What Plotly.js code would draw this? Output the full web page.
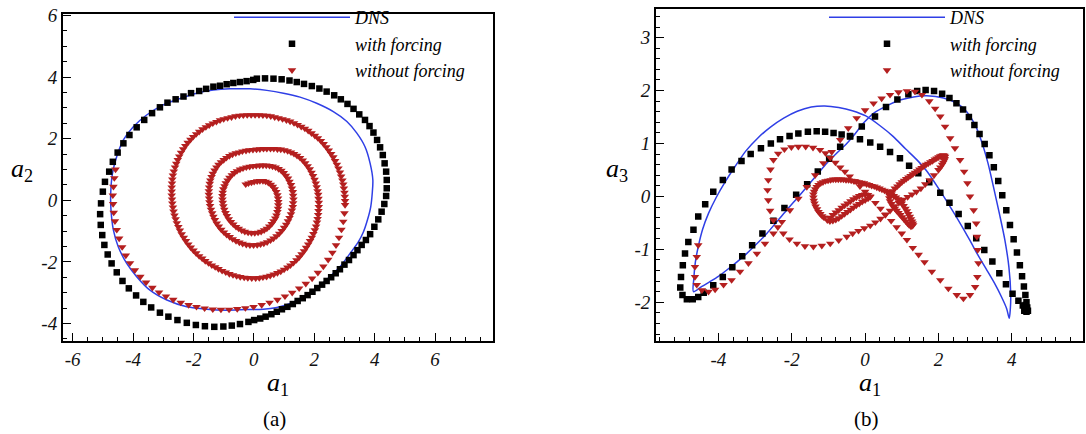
<!DOCTYPE html>
<html><head><meta charset="utf-8">
<script src="https://cdn.plot.ly/plotly-3.0.1.min.js"></script>
<style>html,body{margin:0;padding:0;background:#fff;}#chart{width:1086px;height:434px;}</style>
</head><body><div id="chart"></div>
<script>
// ---------- series names ----------
const seriesNames = ['DNS', 'with forcing', 'without forcing'];

// ---------- panel (a): a1 vs a2 ----------
const dnsA = [[3.92,0.23],[3.94,0.66],[3.85,1.20],[3.68,1.74],[3.41,2.18],[3.08,2.56],[2.63,2.88],[2.08,3.15],[1.53,3.35],[0.98,3.48],[0.43,3.57],[-0.13,3.62],[-0.79,3.62],[-1.34,3.58],[-1.89,3.48],[-2.44,3.31],[-3.00,3.10],[-3.55,2.77],[-3.99,2.39],[-4.32,1.96],[-4.54,1.42],[-4.68,0.88],[-4.74,0.23],[-4.73,-0.32],[-4.65,-0.97],[-4.49,-1.51],[-4.21,-2.05],[-3.88,-2.48],[-3.44,-2.92],[-2.88,-3.24],[-2.22,-3.46],[-1.56,-3.54],[-0.90,-3.57],[-0.24,-3.55],[0.31,-3.54],[0.76,-3.48],[1.20,-3.35],[1.64,-3.13],[2.08,-2.86],[2.52,-2.48],[2.85,-2.16],[3.19,-1.72],[3.46,-1.35],[3.63,-1.02],[3.76,-0.64],[3.87,-0.21],[3.92,0.23]];

const withA = [[-0.02,3.91],[0.10,3.95],[0.37,3.96],[0.65,3.95],[0.92,3.93],[1.18,3.89],[1.42,3.84],[1.66,3.78],[1.92,3.71],[2.17,3.63],[2.41,3.53],[2.66,3.41],[2.88,3.28],[3.10,3.13],[3.30,2.97],[3.49,2.79],[3.68,2.61],[3.83,2.41],[3.96,2.20],[4.08,1.96],[4.18,1.72],[4.27,1.47],[4.33,1.20],[4.38,0.93],[4.40,0.66],[4.40,0.39],[4.38,0.14],[4.32,-0.12],[4.23,-0.37],[4.12,-0.62],[3.99,-0.86],[3.85,-1.10],[3.71,-1.29],[3.57,-1.45],[3.43,-1.62],[3.30,-1.78],[3.15,-1.94],[3.00,-2.09],[2.85,-2.24],[2.71,-2.37],[2.56,-2.50],[2.41,-2.62],[2.26,-2.74],[2.10,-2.85],[1.94,-2.97],[1.78,-3.08],[1.62,-3.18],[1.45,-3.27],[1.29,-3.37],[1.11,-3.46],[0.93,-3.54],[0.76,-3.62],[0.58,-3.70],[0.39,-3.78],[0.21,-3.84],[0.01,-3.89],[-0.18,-3.95],[-0.46,-4.02],[-0.73,-4.07],[-1.01,-4.10],[-1.31,-4.11],[-1.62,-4.09],[-1.92,-4.05],[-2.22,-3.98],[-2.53,-3.89],[-2.83,-3.78],[-3.11,-3.65],[-3.40,-3.48],[-3.66,-3.30],[-3.90,-3.09],[-4.14,-2.86],[-4.35,-2.62],[-4.54,-2.34],[-4.71,-2.05],[-4.84,-1.76],[-4.95,-1.45],[-5.02,-1.13],[-5.07,-0.80],[-5.09,-0.45],[-5.06,-0.10],[-5.00,0.28],[-4.93,0.60],[-4.79,0.93],[-4.67,1.25],[-4.51,1.55],[-4.32,1.85],[-4.12,2.12],[-3.88,2.37],[-3.63,2.61],[-3.37,2.83],[-3.11,3.02],[-2.86,3.17],[-2.59,3.28],[-2.33,3.37],[-2.08,3.48],[-1.81,3.55],[-1.58,3.62],[-1.34,3.69],[-1.12,3.72],[-0.90,3.77],[-0.68,3.81],[-0.46,3.84],[-0.24,3.87]];

const withoutA = [[-4.58,1.00],[-4.62,0.72],[-4.65,0.44],[-4.67,0.16],[-4.66,-0.12],[-4.64,-0.40],[-4.60,-0.68],[-4.54,-0.96],[-4.46,-1.24],[-4.36,-1.52],[-4.24,-1.79],[-4.10,-2.04],[-3.94,-2.27],[-3.76,-2.48],[-3.57,-2.67],[-3.36,-2.84],[-3.14,-2.99],[-2.91,-3.12],[-2.67,-3.23],[-2.42,-3.32],[-2.16,-3.40],[-1.90,-3.46],[-1.63,-3.51],[-1.36,-3.54],[-1.09,-3.55],[-0.82,-3.55],[-0.55,-3.53],[-0.28,-3.50],[-0.01,-3.46],[0.26,-3.40],[0.52,-3.32],[0.78,-3.23],[1.03,-3.12],[1.27,-3.00],[1.50,-2.86],[1.72,-2.71],[1.93,-2.54],[2.12,-2.35],[2.30,-2.15],[2.46,-1.93],[2.60,-1.70],[2.72,-1.46],[2.82,-1.21],[2.90,-0.95],[2.96,-0.69],[3.00,-0.42],
[3.02,-0.15],[3.02,-0.02],[3.01,0.12],[3.00,0.25],[2.98,0.39],[2.96,0.52],[2.93,0.65],[2.89,0.78],[2.85,0.91],[2.80,1.04],[2.75,1.16],[2.69,1.28],[2.63,1.40],[2.56,1.51],[2.48,1.62],[2.40,1.73],[2.31,1.83],[2.22,1.93],[2.12,2.02],[2.02,2.10],[1.91,2.18],[1.80,2.26],[1.69,2.33],[1.57,2.39],[1.45,2.45],[1.33,2.51],[1.20,2.56],[1.08,2.60],[0.95,2.64],[0.82,2.67],[0.69,2.70],[0.56,2.73],[0.43,2.75],[0.30,2.76],[0.17,2.77],[0.04,2.77],[-0.09,2.77],[-0.22,2.77],[-0.35,2.76],[-0.48,2.75],[-0.61,2.73],[-0.74,2.70],[-0.87,2.67],[-1.00,2.64],[-1.12,2.60],[-1.24,2.55],[-1.36,2.50],[-1.48,2.44],[-1.59,2.38],[-1.70,2.31],[-1.81,2.23],[-1.91,2.15],[-2.01,2.06],[-2.10,1.97],[-2.19,1.87],[-2.27,1.77],[-2.34,1.66],[-2.41,1.55],[-2.47,1.43],[-2.52,1.31],[-2.57,1.19],[-2.61,1.07],[-2.65,0.94],[-2.68,0.81],[-2.70,0.68],[-2.71,0.55],[-2.72,0.42],[-2.72,0.29],[-2.72,0.16],[-2.71,0.03],[-2.70,-0.10],[-2.68,-0.23],[-2.66,-0.36],[-2.63,-0.49],[-2.59,-0.61],[-2.55,-0.74],[-2.50,-0.86],[-2.45,-0.98],[-2.39,-1.10],[-2.32,-1.21],[-2.25,-1.32],[-2.17,-1.43],[-2.09,-1.53],[-2.00,-1.63],[-1.91,-1.72],[-1.81,-1.81],[-1.71,-1.89],[-1.61,-1.97],[-1.50,-2.04],[-1.39,-2.11],[-1.28,-2.17],[-1.17,-2.23],[-1.05,-2.29],[-0.93,-2.34],[-0.81,-2.39],[-0.69,-2.43],[-0.57,-2.46],[-0.45,-2.49],[-0.32,-2.51],[-0.20,-2.52],[-0.07,-2.53],[0.06,-2.53],[0.18,-2.52],[0.30,-2.50],[0.42,-2.48],[0.54,-2.45],[0.66,-2.41],[0.78,-2.36],[0.89,-2.31],[1.00,-2.25],[1.11,-2.18],[1.21,-2.11],[1.31,-2.03],[1.41,-1.94],[1.50,-1.85],[1.58,-1.75],[1.66,-1.65],[1.73,-1.54],[1.80,-1.43],[1.86,-1.32],[1.92,-1.21],[1.97,-1.09],[2.02,-0.97],[2.06,-0.85],[2.09,-0.72],[2.11,-0.60],[2.13,-0.47],[2.14,-0.34],[2.15,-0.21],[2.15,-0.08],[2.14,0.05],[2.13,0.18],[2.11,0.30],[2.08,0.43],[2.05,0.55],[2.01,0.67],
[1.96,0.79],[1.91,0.90],[1.85,1.01],[1.78,1.11],[1.70,1.21],[1.62,1.30],[1.53,1.38],[1.43,1.45],[1.33,1.51],[1.23,1.56],[1.12,1.60],[1.01,1.63],[0.89,1.65],[0.78,1.66],[0.66,1.67],[0.55,1.67],[0.43,1.67],[0.32,1.67],[0.20,1.66],[0.09,1.65],[-0.03,1.64],[-0.15,1.63],[-0.26,1.61],[-0.38,1.59],[-0.49,1.56],[-0.60,1.53],[-0.71,1.49],[-0.81,1.44],[-0.91,1.38],[-1.00,1.31],[-1.09,1.24],[-1.17,1.16],[-1.24,1.07],[-1.30,0.97],[-1.36,0.87],[-1.40,0.76],[-1.44,0.65],[-1.46,0.54],[-1.48,0.42],[-1.49,0.30],[-1.49,0.18],[-1.48,0.06],[-1.47,-0.06],[-1.45,-0.18],[-1.42,-0.30],[-1.38,-0.42],[-1.34,-0.53],[-1.29,-0.64],[-1.23,-0.75],[-1.16,-0.85],[-1.08,-0.95],[-0.99,-1.04],[-0.90,-1.12],[-0.80,-1.19],[-0.70,-1.26],[-0.59,-1.32],[-0.48,-1.37],[-0.37,-1.41],[-0.25,-1.44],[-0.13,-1.46],[-0.01,-1.46],[0.11,-1.45],[0.22,-1.43],[0.33,-1.40],[0.44,-1.36],[0.55,-1.30],[0.65,-1.24],[0.75,-1.16],[0.84,-1.08],[0.92,-0.99],[1.00,-0.89],[1.07,-0.79],[1.13,-0.68],[1.18,-0.57],[1.23,-0.45],[1.26,-0.33],[1.29,-0.21],[1.30,-0.09],[1.31,0.03],[1.30,0.15],[1.29,0.27],[1.26,0.39],[1.23,0.50],[1.18,0.61],[1.13,0.71],[1.06,0.80],[0.99,0.89],[0.91,0.96],[0.82,1.02],[0.72,1.07],[0.62,1.10],[0.52,1.12],[0.41,1.13],[0.30,1.13],[0.19,1.13],[0.08,1.12],[-0.03,1.11],[-0.14,1.09],[-0.25,1.07],[-0.36,1.04],[-0.46,1.00],[-0.56,0.95],[-0.65,0.89],[-0.73,0.82],[-0.81,0.74],[-0.87,0.65],[-0.93,0.56],[-0.97,0.46],[-1.01,0.36],[-1.03,0.25],[-1.04,0.14],[-1.04,0.03],[-1.03,-0.08],[-1.01,-0.19],[-0.98,-0.30],[-0.94,-0.41],[-0.89,-0.51],[-0.83,-0.61],[-0.76,-0.70],[-0.68,-0.78],[-0.59,-0.86],[-0.50,-0.92],[-0.40,-0.98],[-0.30,-1.02],[-0.19,-1.05],[-0.08,-1.06],[0.03,-1.06],[0.14,-1.05],[0.24,-1.02],[0.34,-0.97],[0.43,-0.92],[0.51,-0.85],[0.59,-0.77],[0.65,-0.68],[0.71,-0.59],[0.75,-0.49],[0.78,-0.38],[0.80,-0.27],[0.81,-0.16],[0.81,-0.05],[0.80,0.06],[0.78,0.17],[0.74,0.27],[0.69,0.36],[0.63,0.44],[0.56,0.51],[0.48,0.57],[0.39,0.61],[0.30,0.63],[0.20,0.63],[0.11,0.62],[0.01,0.60],[-0.08,0.58],[-0.18,0.55],[-0.27,0.52]];

// ---------- panel (b): a1 vs a3 ----------
const dnsB = [[-4.68,-1.80],[-4.67,-1.55],[-4.63,-1.25],[-4.55,-0.95],[-4.43,-0.62],[-4.27,-0.32],[-4.06,-0.02],[-3.82,0.27],[-3.55,0.56],[-3.25,0.86],[-2.93,1.10],[-2.58,1.31],[-2.22,1.48],[-1.85,1.61],[-1.47,1.69],[-1.10,1.71],[-0.72,1.68],[-0.35,1.62],[0.02,1.52],[0.40,1.34],[0.77,1.13],[1.10,0.90],[1.40,0.70],[1.68,0.48],[2.05,0.10],[2.35,-0.23],[2.62,-0.54],[2.85,-0.82],[3.07,-1.10],[3.30,-1.37],[3.52,-1.63],[3.72,-1.90],[3.86,-2.12],[3.93,-2.30],[3.96,-2.12],[3.97,-1.83],[3.92,-1.33],[3.81,-0.82],[3.66,-0.32],[3.50,0.18],[3.35,0.63],[3.18,1.03],[3.00,1.35],[2.77,1.60],[2.50,1.76],[2.14,1.86],[1.68,1.90],[1.32,1.88],[0.95,1.82],[0.59,1.71],[0.23,1.57],[-0.05,1.38],[-0.30,1.16],[-0.50,1.00],[-0.77,0.82],[-1.04,0.63],[-1.31,0.41],[-1.59,0.18],[-1.86,-0.04],[-2.14,-0.26],[-2.41,-0.48],[-2.68,-0.70],[-2.96,-0.90],[-3.23,-1.08],[-3.50,-1.24],[-3.77,-1.39],[-4.00,-1.51],[-4.23,-1.61],[-4.45,-1.70],[-4.68,-1.80]];

const withB = [[-4.86,-1.94],[-4.98,-1.86],[-5.04,-1.72],[-5.02,-1.52],[-4.97,-1.30],[-4.91,-1.08],[-4.82,-0.86],[-4.68,-0.63],[-4.55,-0.38],[-4.36,-0.15],[-4.14,0.09],[-3.88,0.31],[-3.64,0.51],[-3.37,0.67],[-3.12,0.80],[-2.84,0.91],[-2.57,1.00],[-2.32,1.08],[-2.06,1.14],[-1.82,1.19],[-1.56,1.22],[-1.32,1.23],[-1.09,1.22],[-0.86,1.20],[-0.64,1.17],[-0.41,1.13],[-0.14,1.08],[0.14,1.02],[0.41,0.94],[0.68,0.84],[0.95,0.72],[1.20,0.58],[1.45,0.44],[1.75,0.27],[2.05,0.07],[2.30,-0.12],[2.55,-0.33],[2.80,-0.56],[3.03,-0.79],[3.25,-1.01],[3.47,-1.23],[3.66,-1.45],[3.84,-1.66],[4.02,-1.84],[4.18,-1.97],[4.30,-2.06],[4.36,-2.12],[4.34,-2.16],[4.40,-2.18],[4.44,-2.16],[4.42,-2.10],[4.38,-2.05],[4.40,-2.00],[4.37,-1.86],[4.33,-1.70],[4.28,-1.51],[4.22,-1.30],[4.14,-1.06],[4.05,-0.81],[3.95,-0.54],[3.85,-0.26],[3.74,0.02],[3.63,0.29],[3.51,0.55],[3.39,0.78],[3.26,0.99],[3.12,1.18],[2.98,1.35],[2.83,1.50],[2.67,1.64],[2.49,1.76],[2.30,1.86],[2.10,1.94],[1.88,1.99],[1.65,2.01],[1.42,1.99],[1.18,1.93],[0.88,1.83],[0.57,1.69],[0.27,1.51],[-0.09,1.32],[-0.41,1.14],[-0.68,0.94],[-0.98,0.71],[-1.29,0.47],[-1.58,0.23],[-1.88,0.03],[-2.20,-0.22],[-2.50,-0.46],[-2.80,-0.70],[-3.08,-0.92],[-3.35,-1.13],[-3.62,-1.34],[-3.88,-1.52],[-4.14,-1.68],[-4.40,-1.82],[-4.55,-1.90],[-4.70,-1.94]];

const withoutB = [[-0.96,-0.40],[-0.88,-0.35],[-0.80,-0.30],[-0.72,-0.26],[-0.64,-0.21],[-0.56,-0.17],[-0.48,-0.13],[-0.40,-0.09],[-0.32,-0.05],[-0.24,-0.02],[-0.16,0.01],[-0.08,0.03],[0.00,0.04],[0.08,0.03],[0.14,0.00],[0.08,-0.04],[0.00,-0.07],[-0.08,-0.10],[-0.16,-0.14],[-0.24,-0.17],[-0.32,-0.21],[-0.40,-0.25],[-0.48,-0.29],[-0.56,-0.33],[-0.64,-0.37],[-0.72,-0.41],[-0.80,-0.44],[-0.88,-0.46],[-0.96,-0.47],[-1.03,-0.45],
[-1.12,-0.40],[-1.17,-0.37],[-1.22,-0.33],[-1.27,-0.29],[-1.31,-0.24],[-1.35,-0.19],[-1.38,-0.13],[-1.40,-0.08],[-1.41,-0.02],[-1.41,0.04],[-1.39,0.09],[-1.36,0.14],[-1.32,0.18],[-1.27,0.22],[-1.21,0.25],[-1.15,0.27],[-1.08,0.29],[-1.01,0.30],[-0.94,0.31],[-0.87,0.32],[-0.80,0.32],[-0.73,0.32],[-0.66,0.32],[-0.59,0.32],[-0.52,0.31],[-0.45,0.31],[-0.38,0.30],[-0.31,0.29],[-0.24,0.28],[-0.17,0.27],[-0.10,0.26],[-0.03,0.25],[0.04,0.23],[0.11,0.22],[0.18,0.20],[0.25,0.19],[0.32,0.17],[0.39,0.15],[0.46,0.13],[0.53,0.11],[0.60,0.09],[0.66,0.07],[0.72,0.04],[0.78,0.01],[0.84,-0.02],[0.90,-0.05],[0.95,-0.09],[1.00,-0.13],[1.05,-0.18],[1.10,-0.23],[1.14,-0.28],[1.18,-0.33],[1.22,-0.38],[1.25,-0.43],[1.28,-0.47],[1.30,-0.51],[1.31,-0.54],[1.28,-0.56],[1.25,-0.57],[1.20,-0.54],[1.16,-0.51],[1.11,-0.47],[1.06,-0.43],[1.01,-0.39],[0.96,-0.35],[0.91,-0.31],[0.86,-0.27],[0.81,-0.23],[0.76,-0.19],[0.72,-0.14],[0.68,-0.09],[0.66,-0.03],[0.66,0.02],[0.70,0.06],
[0.75,0.10],[0.81,0.15],[0.88,0.19],[0.94,0.23],[1.00,0.27],[1.06,0.30],[1.12,0.33],[1.18,0.36],[1.24,0.39],[1.30,0.42],[1.36,0.45],[1.42,0.48],[1.48,0.51],[1.54,0.54],[1.60,0.57],[1.66,0.60],[1.72,0.62],[1.78,0.65],[1.84,0.67],[1.90,0.70],[1.95,0.72],[2.00,0.74],[2.05,0.76],[2.09,0.77],[2.13,0.78],[2.16,0.77],[2.18,0.75],[2.17,0.71],[2.16,0.68],[2.13,0.64],[2.10,0.60],[2.05,0.55],[2.00,0.50],[1.88,0.40],[1.76,0.31],[1.64,0.23],[1.52,0.15],[1.40,0.09],[1.28,0.04],[1.16,-0.01],[1.04,-0.06],[0.92,-0.12],[0.80,-0.19],[0.68,-0.27],[0.55,-0.35],[0.42,-0.42],[0.28,-0.49],[0.14,-0.55],
[-0.02,-0.60],[-0.18,-0.65],[-0.34,-0.70],[-0.50,-0.76],[-0.72,-0.83],[-0.95,-0.89],[-1.18,-0.93],[-1.41,-0.95],[-1.64,-0.94],[-1.86,-0.89],[-2.06,-0.81],[-2.23,-0.70],[-2.38,-0.58],[-2.50,-0.45],[-2.59,-0.27],[-2.64,-0.07],[-2.66,0.12],[-2.64,0.31],[-2.58,0.51],[-2.50,0.69],[-2.37,0.81],[-2.20,0.89],[-2.01,0.93],[-1.82,0.94],[-1.62,0.94],[-1.42,0.92],[-1.23,0.88],[-1.08,0.82],[-0.95,0.73],[-0.81,0.64],[-0.68,0.55],[-0.55,0.47],[-0.42,0.38],[-0.28,0.29],[-0.14,0.19],[0.00,0.09],[0.14,-0.01],[0.28,-0.12],[0.42,-0.23],[0.56,-0.34],[0.71,-0.46],[0.86,-0.58],[1.00,-0.70],[1.14,-0.82],
[1.30,-0.97],[1.46,-1.10],[1.62,-1.24],[1.82,-1.42],[2.05,-1.58],[2.27,-1.74],[2.50,-1.86],[2.68,-1.93],[2.86,-1.86],[3.00,-1.71],[3.06,-1.52],[3.09,-1.26],[3.07,-1.01],[3.05,-0.76],[3.03,-0.51],[2.96,-0.26],[2.86,0.00],[2.79,0.25],[2.70,0.47],[2.59,0.69],[2.45,0.91],[2.32,1.10],[2.18,1.32],[2.05,1.51],[1.91,1.66],[1.75,1.80],[1.55,1.92],[1.36,1.98],[1.14,1.99],
[0.91,1.97],[0.68,1.92],[0.45,1.85],[0.23,1.76],[0.00,1.63],[-0.23,1.48],[-0.46,1.29],[-0.68,1.07],[-0.91,0.84],[-1.14,0.63],[-1.36,0.40],[-1.59,0.18],[-1.82,-0.04],[-2.05,-0.26],[-2.27,-0.48],[-2.50,-0.70],[-2.73,-0.89],[-2.95,-1.08],[-3.18,-1.26],[-3.41,-1.42],[-3.64,-1.58],[-3.86,-1.67],[-4.09,-1.76],[-4.27,-1.80],[-4.45,-1.77],[-4.59,-1.67],[-4.64,-1.52],[-4.64,-1.33],[-4.59,-1.14],[-4.55,-0.92]];

// ---------- tick labels ----------
const xTicksA = [-6, -4, -2, 0, 2, 4, 6];
const xLabelsA = ['-6', '-4', '-2', '0', '2', '4', '6'];
const yTicksA = [-4, -2, 0, 2, 4, 6];
const yLabelsA = ['-4', '-2', '0', '2', '4', '6'];
const xTicksB = [-4, -2, 0, 2, 4];
const xLabelsB = ['-4', '-2', '0', '2', '4'];
const yTicksB = [-2, -1, 0, 1, 2, 3];
const yLabelsB = ['-2', '-1', '0', '1', '2', '3'];

// ---------- styling ----------
const BLUE = '#2f3fe6', RED = '#b41f1f', BLACK = '#000000';
const SERIF = 'Liberation Serif, Times New Roman, serif';
const xs = a => a.map(p => p[0]);
const ys = a => a.map(p => p[1]);

function lineTrace(d, xa, ya, lg) {
  return {x: xs(d), y: ys(d), xaxis: xa, yaxis: ya, legend: lg, name: seriesNames[0],
    type: 'scatter', mode: 'lines', line: {color: BLUE, width: 1.5, shape: 'spline', smoothing: 0.8}, hoverinfo: 'skip'};
}
function sqTrace(d, xa, ya, lg) {
  return {x: xs(d), y: ys(d), xaxis: xa, yaxis: ya, legend: lg, name: seriesNames[1],
    type: 'scatter', mode: 'markers', marker: {symbol: 'square', size: 6.5, color: BLACK, line: {width: 0}}, hoverinfo: 'skip'};
}
function triTrace(d, xa, ya, lg) {
  return {x: xs(d), y: ys(d), xaxis: xa, yaxis: ya, legend: lg, name: seriesNames[2],
    type: 'scatter', mode: 'markers', marker: {symbol: 'triangle-down', size: 7.5, color: RED, line: {width: 0}}, hoverinfo: 'skip'};
}

const data = [
  lineTrace(dnsA, 'x', 'y', 'legend'),
  sqTrace(withA, 'x', 'y', 'legend'),
  triTrace(withoutA, 'x', 'y', 'legend'),
  lineTrace(dnsB, 'x2', 'y2', 'legend2'),
  sqTrace(withB, 'x2', 'y2', 'legend2'),
  triTrace(withoutB, 'x2', 'y2', 'legend2')
];

function axis(extra, minorStep) {
  return Object.assign({
    showline: true, mirror: true, linecolor: '#000', linewidth: 2,
    showgrid: false, zeroline: false,
    ticks: 'inside', ticklen: 8, tickwidth: 1, tickcolor: '#000',
    tickmode: 'array',
    tickfont: {family: SERIF, size: 19, style: 'italic', color: '#111'},
    minor: {tickmode: 'linear', tick0: 0, dtick: minorStep, ticks: 'inside', ticklen: 4, tickwidth: 1, tickcolor: '#000', showgrid: false},
    fixedrange: true
  }, extra);
}

const legendBase = {
  xanchor: 'left', yanchor: 'top', itemwidth: 116, bgcolor: 'rgba(0,0,0,0)', borderwidth: 0,
  font: {family: SERIF, size: 18, style: 'italic', color: '#000'}, tracegroupgap: 0
};

const titleFont = {family: SERIF, size: 26, color: '#000'};
const layout = {
  width: 1086, height: 434,
  margin: {l: 0, r: 0, t: 0, b: 0, autoexpand: false},
  paper_bgcolor: '#ffffff', plot_bgcolor: '#ffffff',
  font: {family: SERIF, color: '#000'},
  showlegend: true,
  xaxis: axis({domain: [0.0580, 0.4540], range: [-6.32, 7.92], anchor: 'y', tickvals: xTicksA, ticktext: xLabelsA}, 0.5),
  yaxis: axis({domain: [0.2143, 0.9677], range: [-4.57, 6.05], anchor: 'x', tickvals: yTicksA, ticktext: yLabelsA}, 0.5),
  xaxis2: axis({domain: [0.6041, 0.9972], range: [-5.70, 5.94], anchor: 'y2', tickvals: xTicksB, ticktext: xLabelsB}, 0.4),
  yaxis2: axis({domain: [0.2149, 0.9786], range: [-2.726, 3.535], anchor: 'x2', tickvals: yTicksB, ticktext: yLabelsB}, 0.2),
  legend: Object.assign({}, legendBase, {x: 229 / 1086, y: 1.002}),
  legend2: Object.assign({}, legendBase, {x: 824 / 1086, y: 1.002}),
  annotations: [
    {text: '<i>a</i><sub>2</sub>', xref: 'paper', yref: 'paper', x: 22 / 1086, y: 1 - 170 / 434, showarrow: false, font: titleFont, xanchor: 'center', yanchor: 'middle', borderpad: 0},
    {text: '<i>a</i><sub>1</sub>', xref: 'paper', yref: 'paper', x: 278 / 1086, y: 1 - 384 / 434, showarrow: false, font: titleFont, xanchor: 'center', yanchor: 'middle', borderpad: 0},
    {text: '<i>a</i><sub>3</sub>', xref: 'paper', yref: 'paper', x: 617 / 1086, y: 1 - 170 / 434, showarrow: false, font: titleFont, xanchor: 'center', yanchor: 'middle', borderpad: 0},
    {text: '<i>a</i><sub>1</sub>', xref: 'paper', yref: 'paper', x: 870 / 1086, y: 1 - 384 / 434, showarrow: false, font: titleFont, xanchor: 'center', yanchor: 'middle', borderpad: 0},
    {text: '(a)', xref: 'paper', yref: 'paper', x: 274 / 1086, y: 1 - 419 / 434, showarrow: false, font: {family: SERIF, size: 21, color: '#000'}, xanchor: 'center', yanchor: 'middle'},
    {text: '(b)', xref: 'paper', yref: 'paper', x: 866 / 1086, y: 1 - 419 / 434, showarrow: false, font: {family: SERIF, size: 21, color: '#000'}, xanchor: 'center', yanchor: 'middle'}
  ]
};

Plotly.newPlot('chart', data, layout, {displayModeBar: false, staticPlot: true});
</script>
</body></html>
